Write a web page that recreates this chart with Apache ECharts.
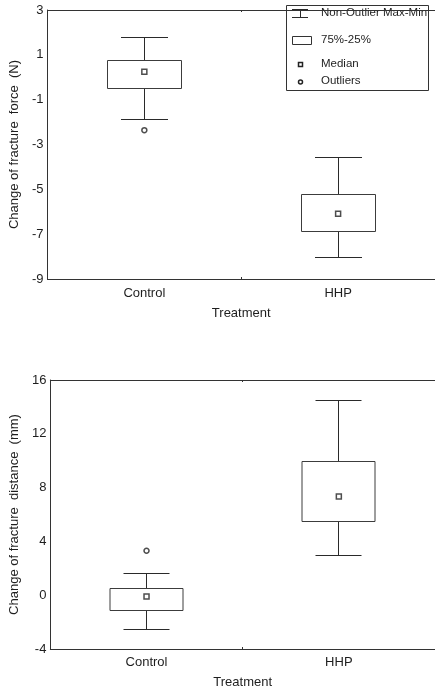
<!DOCTYPE html>
<html>
<head>
<meta charset="utf-8">
<script src="https://cdn.jsdelivr.net/npm/echarts@6/dist/echarts.min.js"></script>
<style>
  html, body { margin: 0; padding: 0; background: #fff; }
  #chart { width: 435px; height: 693px; }
</style>
</head>
<body>
<div id="chart"></div>
<script>
// Treatment groups
const treatments = ['Control', 'HHP'];

// Change of fracture force (N): box-plot statistics per treatment
const forceMin = [-1.88, -8.06];
const forceQ1 = [-0.48, -6.87];
const forceMedian = [0.25, -6.09];
const forceQ3 = [0.75, -5.23];
const forceMax = [1.78, -3.58];
const forceOutliers = [[0, -2.36]];
const forceTicks = [-9, -7, -5, -3, -1, 1, 3];

// Change of fracture distance (mm): box-plot statistics per treatment
const distMin = [-2.56, 2.96];
const distQ1 = [-1.13, 5.51];
const distMedian = [-0.09, 7.34];
const distQ3 = [0.51, 9.96];
const distMax = [1.65, 14.49];
const distOutliers = [[0, 3.31]];
const distTicks = [-4, 0, 4, 8, 12, 16];

const FONT = '"Liberation Sans", Arial, Helvetica, sans-serif';
const INK = '#1e1e1e';

const chart = echarts.init(document.getElementById('chart'), null, { renderer: 'canvas' });

function snap(v) { return Math.round(v - 0.5) + 0.5; }

// Whiskers with caps plus the 25%-75% box
function renderBox(params, api) {
  const i = api.value(0);
  const pMin = api.coord([i, api.value(1)]);
  const pQ1 = api.coord([i, api.value(2)]);
  const pQ3 = api.coord([i, api.value(3)]);
  const pMax = api.coord([i, api.value(4)]);
  const band = api.size([1, 0])[0];
  const boxW = Math.round(band * 0.38);
  const capW = Math.round(band * 0.24);
  const cx = snap(pMin[0]);
  const yMin = snap(pMin[1]), yQ1 = snap(pQ1[1]), yQ3 = snap(pQ3[1]), yMax = snap(pMax[1]);
  const line = { stroke: '#2a2a2a', lineWidth: 1 };
  return {
    type: 'group',
    children: [
      { type: 'line', shape: { x1: cx, y1: yMax, x2: cx, y2: yQ3 }, style: line },
      { type: 'line', shape: { x1: cx, y1: yQ1, x2: cx, y2: yMin }, style: line },
      { type: 'line', shape: { x1: cx - capW / 2, y1: yMax, x2: cx + capW / 2, y2: yMax }, style: line },
      { type: 'line', shape: { x1: cx - capW / 2, y1: yMin, x2: cx + capW / 2, y2: yMin }, style: line },
      {
        type: 'rect',
        shape: { x: cx - boxW / 2, y: yQ3, width: boxW, height: yQ1 - yQ3 },
        style: { fill: '#fff', stroke: '#3c3c3c', lineWidth: 1 }
      }
    ]
  };
}

function boxData(mins, q1s, q3s, maxs) {
  return treatments.map((t, i) => [i, mins[i], q1s[i], q3s[i], maxs[i]]);
}

function pointData(values) {
  return treatments.map((t, i) => [i, values[i]]);
}

const markerStyle = { color: '#fff', borderColor: '#222', borderWidth: 1.5 };

function xAxes(gridIndex, labelMargin, nameGap) {
  return [
    {
      type: 'category', gridIndex, data: treatments, position: 'bottom',
      name: 'Treatment', nameLocation: 'middle', nameGap,
      nameTextStyle: { fontFamily: FONT, fontSize: 13, color: INK },
      axisLine: { show: true, onZero: false, lineStyle: { color: '#333', width: 1 } },
      axisTick: { show: true, inside: true, length: 2, lineStyle: { color: '#333' } },
      axisLabel: { fontFamily: FONT, fontSize: 13, color: INK, margin: labelMargin },
      splitLine: { show: false }
    },
    {
      type: 'category', gridIndex, data: treatments, position: 'top',
      axisLine: { show: true, onZero: false, lineStyle: { color: '#333', width: 1 } },
      axisTick: { show: true, inside: true, length: 2, lineStyle: { color: '#333' } },
      axisLabel: { show: false },
      splitLine: { show: false }
    }
  ];
}

function yAxis(gridIndex, min, max, ticks, name, nameGap) {
  return {
    type: 'value', gridIndex, min, max,
    name, nameLocation: 'middle', nameGap, nameRotate: 90,
    nameTextStyle: { fontFamily: FONT, fontSize: 13, color: INK },
    axisLine: { show: true, onZero: false, lineStyle: { color: '#333', width: 1 } },
    axisTick: { show: false, customValues: ticks },
    axisLabel: { fontFamily: FONT, fontSize: 13, color: INK, margin: 4, customValues: ticks },
    splitLine: { show: false }
  };
}

// Legend drawn as a framed key in the upper plot
const legendLine = { stroke: '#2a2a2a', lineWidth: 1 };
const legendText = { fontFamily: FONT, fontSize: 11.5, fill: INK, verticalAlign: 'middle' };
const legendGraphic = {
  type: 'group',
  z: 100,
  children: [
    { type: 'rect', shape: { x: 286.5, y: 5.5, width: 142, height: 85 }, style: { fill: '#fff', stroke: '#333', lineWidth: 1 } },
    { type: 'line', shape: { x1: 292, y1: 9.5, x2: 308, y2: 9.5 }, style: legendLine },
    { type: 'line', shape: { x1: 292, y1: 17.5, x2: 308, y2: 17.5 }, style: legendLine },
    { type: 'line', shape: { x1: 300.5, y1: 9.5, x2: 300.5, y2: 17.5 }, style: legendLine },
    { type: 'text', style: Object.assign({ x: 321, y: 13, text: 'Non-Outlier Max-Min' }, legendText) },
    { type: 'rect', shape: { x: 292.5, y: 36.5, width: 19, height: 8 }, style: { fill: '#fff', stroke: '#333', lineWidth: 1 } },
    { type: 'text', style: Object.assign({ x: 321, y: 40, text: '75%-25%' }, legendText) },
    { type: 'rect', shape: { x: 298.5, y: 62.5, width: 4, height: 4 }, style: { fill: '#fff', stroke: '#222', lineWidth: 1.5 } },
    { type: 'text', style: Object.assign({ x: 321, y: 64, text: 'Median' }, legendText) },
    { type: 'circle', shape: { cx: 300.5, cy: 82, r: 2 }, style: { fill: '#fff', stroke: '#222', lineWidth: 1.5 } },
    { type: 'text', style: Object.assign({ x: 321, y: 81, text: 'Outliers' }, legendText) }
  ]
};

const option = {
  animation: false,
  backgroundColor: '#fff',
  grid: [
    { left: 47, top: 10, width: 390, height: 269 },
    { left: 49, top: 380, width: 388, height: 269 }
  ],
  xAxis: [].concat(xAxes(0, 8, 28), xAxes(1, 7, 27)),
  yAxis: [
    yAxis(0, -9, 3, forceTicks, 'Change of fracture  force  (N)', 26),
    yAxis(1, -4, 16, distTicks, 'Change of fracture  distance  (mm)', 26)
  ],
  graphic: [legendGraphic],
  series: [
    {
      name: 'Non-Outlier Max-Min', type: 'custom', xAxisIndex: 0, yAxisIndex: 0,
      renderItem: renderBox, encode: { x: 0, y: [1, 2, 3, 4] },
      data: boxData(forceMin, forceQ1, forceQ3, forceMax), z: 2
    },
    {
      name: 'Median', type: 'scatter', xAxisIndex: 0, yAxisIndex: 0,
      symbol: 'rect', symbolSize: 5, itemStyle: markerStyle,
      data: pointData(forceMedian), z: 3
    },
    {
      name: 'Outliers', type: 'scatter', xAxisIndex: 0, yAxisIndex: 0,
      symbol: 'circle', symbolSize: 5, itemStyle: markerStyle,
      data: forceOutliers, z: 3
    },
    {
      name: 'Non-Outlier Max-Min', type: 'custom', xAxisIndex: 2, yAxisIndex: 1,
      renderItem: renderBox, encode: { x: 0, y: [1, 2, 3, 4] },
      data: boxData(distMin, distQ1, distQ3, distMax), z: 2
    },
    {
      name: 'Median', type: 'scatter', xAxisIndex: 2, yAxisIndex: 1,
      symbol: 'rect', symbolSize: 5, itemStyle: markerStyle,
      data: pointData(distMedian), z: 3
    },
    {
      name: 'Outliers', type: 'scatter', xAxisIndex: 2, yAxisIndex: 1,
      symbol: 'circle', symbolSize: 5, itemStyle: markerStyle,
      data: distOutliers, z: 3
    }
  ]
};

chart.setOption(option);
</script>
</body>
</html>
